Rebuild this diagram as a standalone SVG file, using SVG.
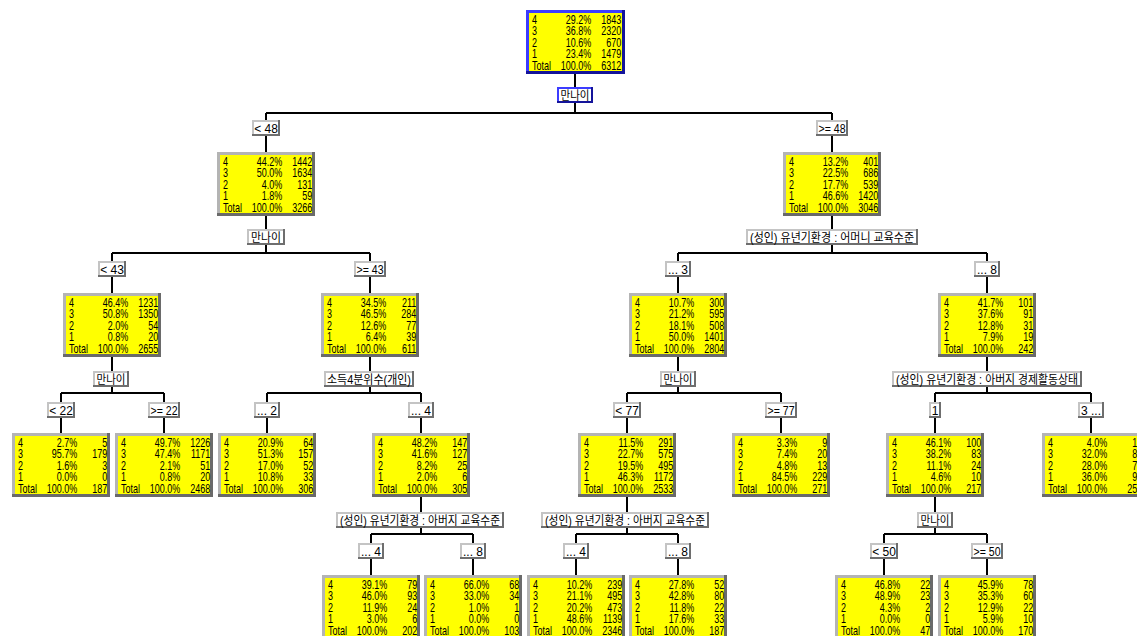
<svg xmlns="http://www.w3.org/2000/svg" xmlns:xlink="http://www.w3.org/1999/xlink" width="1137" height="636" viewBox="0 0 1137 636">
<style>
.ln{stroke:#000;stroke-width:2;fill:none}
.lo{fill:#6e6e6e}.lm{fill:#c4c4c4}.li{fill:#fff}
.bo{fill:#14149a}.bm{fill:#3c3cff}
.b1{fill:#6a6a6a}.b2{fill:#b4b4b4}.yl{fill:#ffff00}
.t{font-family:"Liberation Sans","DejaVu Sans",sans-serif;font-size:12px;fill:#000}
.e{text-anchor:end}
.lt{font-family:"Liberation Sans","Noto Sans CJK KR",sans-serif;font-size:12px;text-anchor:middle;fill:#000}
</style>
<defs>
<g id="yb"><rect class="b1" width="98" height="64"/><rect class="b2" width="95" height="61"/><rect class="yl" x="3" y="3" width="92" height="58"/></g>
<g id="rb"><rect class="bo" width="99" height="64"/><rect class="bm" width="96" height="61"/><rect class="yl" x="3" y="3" width="93" height="58"/></g>
</defs>
<rect width="1137" height="636" fill="#fff"/>
<g id="connectors">
<path class="ln" d="M575,73V113M266,113H832M266,113V152M832,113V152"/>
<path class="ln" d="M266,215V253M112,253H370M112,253V293M370,253V293"/>
<path class="ln" d="M832,215V253M678,253H987M678,253V293M987,253V293"/>
<path class="ln" d="M112,356V393M61,393H164M61,393V433M164,393V433"/>
<path class="ln" d="M370,356V393M267,393H421M267,393V433M421,393V433"/>
<path class="ln" d="M678,356V393M627,393H781M627,393V433M781,393V433"/>
<path class="ln" d="M987,356V393M935,393H1091M935,393V433M1091,393V433"/>
<path class="ln" d="M421,497V534M371,534H473M371,534V575M473,534V575"/>
<path class="ln" d="M627,497V534M576,534H678M576,534V575M678,534V575"/>
<path class="ln" d="M935,497V534M884,534H987M884,534V575M987,534V575"/>
</g>
<g id="splits">
<g id="s0"><rect class="bo" x="557" y="87" width="36" height="16"/><rect class="bm" x="557" y="87" width="34" height="14"/><rect class="li" x="559" y="89" width="32" height="12"/><text class="lt" x="575" y="99.5" textLength="29" lengthAdjust="spacingAndGlyphs">만나이</text></g>
<g id="s1"><rect class="lo" x="247" y="229" width="38" height="16"/><rect class="lm" x="247" y="229" width="36" height="14"/><rect class="li" x="249" y="231" width="34" height="12"/><text class="lt" x="266" y="241.5" textLength="30" lengthAdjust="spacingAndGlyphs">만나이</text></g>
<g id="s2"><rect class="lo" x="746" y="229" width="172" height="16"/><rect class="lm" x="746" y="229" width="170" height="14"/><rect class="li" x="748" y="231" width="168" height="12"/><text class="lt" x="832" y="241.5" textLength="164" lengthAdjust="spacingAndGlyphs">(성인) 유년기환경 : 어머니 교육수준</text></g>
<g id="s3"><rect class="lo" x="93" y="371" width="36" height="16"/><rect class="lm" x="93" y="371" width="34" height="14"/><rect class="li" x="95" y="373" width="32" height="12"/><text class="lt" x="111" y="383.5" textLength="29" lengthAdjust="spacingAndGlyphs">만나이</text></g>
<g id="s4"><rect class="lo" x="324" y="371" width="90" height="16"/><rect class="lm" x="324" y="371" width="88" height="14"/><rect class="li" x="326" y="373" width="86" height="12"/><text class="lt" x="369" y="383.5" textLength="84" lengthAdjust="spacingAndGlyphs">소득4분위수(개인)</text></g>
<g id="s5"><rect class="lo" x="660" y="371" width="36" height="16"/><rect class="lm" x="660" y="371" width="34" height="14"/><rect class="li" x="662" y="373" width="32" height="12"/><text class="lt" x="678" y="383.5" textLength="29" lengthAdjust="spacingAndGlyphs">만나이</text></g>
<g id="s6"><rect class="lo" x="892" y="371" width="190" height="16"/><rect class="lm" x="892" y="371" width="188" height="14"/><rect class="li" x="894" y="373" width="186" height="12"/><text class="lt" x="987" y="383.5" textLength="182" lengthAdjust="spacingAndGlyphs">(성인) 유년기환경 : 아버지 경제활동상태</text></g>
<g id="s10"><rect class="lo" x="336" y="512" width="168" height="16"/><rect class="lm" x="336" y="512" width="166" height="14"/><rect class="li" x="338" y="514" width="164" height="12"/><text class="lt" x="420" y="524.5" textLength="160" lengthAdjust="spacingAndGlyphs">(성인) 유년기환경 : 아버지 교육수준</text></g>
<g id="s11"><rect class="lo" x="541" y="512" width="168" height="16"/><rect class="lm" x="541" y="512" width="166" height="14"/><rect class="li" x="543" y="514" width="164" height="12"/><text class="lt" x="625" y="524.5" textLength="160" lengthAdjust="spacingAndGlyphs">(성인) 유년기환경 : 아버지 교육수준</text></g>
<g id="s13"><rect class="lo" x="917" y="512" width="36" height="16"/><rect class="lm" x="917" y="512" width="34" height="14"/><rect class="li" x="919" y="514" width="32" height="12"/><text class="lt" x="935" y="524.5" textLength="29" lengthAdjust="spacingAndGlyphs">만나이</text></g>
</g>
<g id="conditions">
<g id="c1"><rect class="lo" x="252" y="120" width="28" height="16"/><rect class="lm" x="252" y="120" width="26" height="14"/><rect class="li" x="254" y="122" width="24" height="12"/><text class="lt" x="266" y="132.5">&lt; 48</text></g>
<g id="c2"><rect class="lo" x="816" y="120" width="32" height="16"/><rect class="lm" x="816" y="120" width="30" height="14"/><rect class="li" x="818" y="122" width="28" height="12"/><text class="lt" x="832" y="132.5" textLength="27" lengthAdjust="spacingAndGlyphs">&gt;= 48</text></g>
<g id="c3"><rect class="lo" x="98" y="261" width="28" height="16"/><rect class="lm" x="98" y="261" width="26" height="14"/><rect class="li" x="100" y="263" width="24" height="12"/><text class="lt" x="112" y="273.5">&lt; 43</text></g>
<g id="c4"><rect class="lo" x="354" y="261" width="32" height="16"/><rect class="lm" x="354" y="261" width="30" height="14"/><rect class="li" x="356" y="263" width="28" height="12"/><text class="lt" x="370" y="273.5" textLength="27" lengthAdjust="spacingAndGlyphs">&gt;= 43</text></g>
<g id="c5"><rect class="lo" x="665" y="261" width="26" height="16"/><rect class="lm" x="665" y="261" width="24" height="14"/><rect class="li" x="667" y="263" width="22" height="12"/><text class="lt" x="678" y="273.5">... 3</text></g>
<g id="c6"><rect class="lo" x="974" y="261" width="26" height="16"/><rect class="lm" x="974" y="261" width="24" height="14"/><rect class="li" x="976" y="263" width="22" height="12"/><text class="lt" x="987" y="273.5">... 8</text></g>
<g id="c7"><rect class="lo" x="47" y="402" width="28" height="16"/><rect class="lm" x="47" y="402" width="26" height="14"/><rect class="li" x="49" y="404" width="24" height="12"/><text class="lt" x="61" y="414.5">&lt; 22</text></g>
<g id="c8"><rect class="lo" x="148" y="402" width="32" height="16"/><rect class="lm" x="148" y="402" width="30" height="14"/><rect class="li" x="150" y="404" width="28" height="12"/><text class="lt" x="164" y="414.5" textLength="27" lengthAdjust="spacingAndGlyphs">&gt;= 22</text></g>
<g id="c9"><rect class="lo" x="254" y="402" width="26" height="16"/><rect class="lm" x="254" y="402" width="24" height="14"/><rect class="li" x="256" y="404" width="22" height="12"/><text class="lt" x="267" y="414.5">... 2</text></g>
<g id="c10"><rect class="lo" x="408" y="402" width="26" height="16"/><rect class="lm" x="408" y="402" width="24" height="14"/><rect class="li" x="410" y="404" width="22" height="12"/><text class="lt" x="421" y="414.5">... 4</text></g>
<g id="c11"><rect class="lo" x="613" y="402" width="28" height="16"/><rect class="lm" x="613" y="402" width="26" height="14"/><rect class="li" x="615" y="404" width="24" height="12"/><text class="lt" x="627" y="414.5">&lt; 77</text></g>
<g id="c12"><rect class="lo" x="765" y="402" width="32" height="16"/><rect class="lm" x="765" y="402" width="30" height="14"/><rect class="li" x="767" y="404" width="28" height="12"/><text class="lt" x="781" y="414.5" textLength="27" lengthAdjust="spacingAndGlyphs">&gt;= 77</text></g>
<g id="c13"><rect class="lo" x="929" y="402" width="12" height="16"/><rect class="lm" x="929" y="402" width="10" height="14"/><rect class="li" x="931" y="404" width="8" height="12"/><text class="lt" x="935" y="414.5">1</text></g>
<g id="c14"><rect class="lo" x="1078" y="402" width="26" height="16"/><rect class="lm" x="1078" y="402" width="24" height="14"/><rect class="li" x="1080" y="404" width="22" height="12"/><text class="lt" x="1091" y="414.5">3 ...</text></g>
<g id="c15"><rect class="lo" x="358" y="543" width="26" height="16"/><rect class="lm" x="358" y="543" width="24" height="14"/><rect class="li" x="360" y="545" width="22" height="12"/><text class="lt" x="371" y="555.5">... 4</text></g>
<g id="c16"><rect class="lo" x="460" y="543" width="26" height="16"/><rect class="lm" x="460" y="543" width="24" height="14"/><rect class="li" x="462" y="545" width="22" height="12"/><text class="lt" x="473" y="555.5">... 8</text></g>
<g id="c17"><rect class="lo" x="563" y="543" width="26" height="16"/><rect class="lm" x="563" y="543" width="24" height="14"/><rect class="li" x="565" y="545" width="22" height="12"/><text class="lt" x="576" y="555.5">... 4</text></g>
<g id="c18"><rect class="lo" x="665" y="543" width="26" height="16"/><rect class="lm" x="665" y="543" width="24" height="14"/><rect class="li" x="667" y="545" width="22" height="12"/><text class="lt" x="678" y="555.5">... 8</text></g>
<g id="c19"><rect class="lo" x="870" y="543" width="28" height="16"/><rect class="lm" x="870" y="543" width="26" height="14"/><rect class="li" x="872" y="545" width="24" height="12"/><text class="lt" x="884" y="555.5">&lt; 50</text></g>
<g id="c20"><rect class="lo" x="971" y="543" width="32" height="16"/><rect class="lm" x="971" y="543" width="30" height="14"/><rect class="li" x="973" y="545" width="28" height="12"/><text class="lt" x="987" y="555.5" textLength="27" lengthAdjust="spacingAndGlyphs">&gt;= 50</text></g>
</g>
<g id="nodes">
<g id="n0" transform="translate(526,10)"><use href="#rb" xlink:href="#rb"/><g transform="scale(0.75,1)">
<text class="t"><tspan x="8" y="14">4</tspan><tspan x="8" y="25.5">3</tspan><tspan x="8" y="37">2</tspan><tspan x="8" y="48.5">1</tspan><tspan x="8" y="60">Total</tspan></text>
<text class="t e"><tspan x="87" y="14">29.2%</tspan><tspan x="87" y="25.5">36.8%</tspan><tspan x="87" y="37">10.6%</tspan><tspan x="87" y="48.5">23.4%</tspan><tspan x="87" y="60">100.0%</tspan></text>
<text class="t e"><tspan x="127" y="14">1843</tspan><tspan x="127" y="25.5">2320</tspan><tspan x="127" y="37">670</tspan><tspan x="127" y="48.5">1479</tspan><tspan x="127" y="60">6312</tspan></text></g></g>
<g id="n1" transform="translate(217,152)"><use href="#yb" xlink:href="#yb"/><g transform="scale(0.75,1)">
<text class="t"><tspan x="8" y="14">4</tspan><tspan x="8" y="25.5">3</tspan><tspan x="8" y="37">2</tspan><tspan x="8" y="48.5">1</tspan><tspan x="8" y="60">Total</tspan></text>
<text class="t e"><tspan x="87" y="14">44.2%</tspan><tspan x="87" y="25.5">50.0%</tspan><tspan x="87" y="37">4.0%</tspan><tspan x="87" y="48.5">1.8%</tspan><tspan x="87" y="60">100.0%</tspan></text>
<text class="t e"><tspan x="127" y="14">1442</tspan><tspan x="127" y="25.5">1634</tspan><tspan x="127" y="37">131</tspan><tspan x="127" y="48.5">59</tspan><tspan x="127" y="60">3266</tspan></text></g></g>
<g id="n2" transform="translate(783,152)"><use href="#yb" xlink:href="#yb"/><g transform="scale(0.75,1)">
<text class="t"><tspan x="8" y="14">4</tspan><tspan x="8" y="25.5">3</tspan><tspan x="8" y="37">2</tspan><tspan x="8" y="48.5">1</tspan><tspan x="8" y="60">Total</tspan></text>
<text class="t e"><tspan x="87" y="14">13.2%</tspan><tspan x="87" y="25.5">22.5%</tspan><tspan x="87" y="37">17.7%</tspan><tspan x="87" y="48.5">46.6%</tspan><tspan x="87" y="60">100.0%</tspan></text>
<text class="t e"><tspan x="127" y="14">401</tspan><tspan x="127" y="25.5">686</tspan><tspan x="127" y="37">539</tspan><tspan x="127" y="48.5">1420</tspan><tspan x="127" y="60">3046</tspan></text></g></g>
<g id="n3" transform="translate(63,293)"><use href="#yb" xlink:href="#yb"/><g transform="scale(0.75,1)">
<text class="t"><tspan x="8" y="14">4</tspan><tspan x="8" y="25.5">3</tspan><tspan x="8" y="37">2</tspan><tspan x="8" y="48.5">1</tspan><tspan x="8" y="60">Total</tspan></text>
<text class="t e"><tspan x="87" y="14">46.4%</tspan><tspan x="87" y="25.5">50.8%</tspan><tspan x="87" y="37">2.0%</tspan><tspan x="87" y="48.5">0.8%</tspan><tspan x="87" y="60">100.0%</tspan></text>
<text class="t e"><tspan x="127" y="14">1231</tspan><tspan x="127" y="25.5">1350</tspan><tspan x="127" y="37">54</tspan><tspan x="127" y="48.5">20</tspan><tspan x="127" y="60">2655</tspan></text></g></g>
<g id="n4" transform="translate(321,293)"><use href="#yb" xlink:href="#yb"/><g transform="scale(0.75,1)">
<text class="t"><tspan x="8" y="14">4</tspan><tspan x="8" y="25.5">3</tspan><tspan x="8" y="37">2</tspan><tspan x="8" y="48.5">1</tspan><tspan x="8" y="60">Total</tspan></text>
<text class="t e"><tspan x="87" y="14">34.5%</tspan><tspan x="87" y="25.5">46.5%</tspan><tspan x="87" y="37">12.6%</tspan><tspan x="87" y="48.5">6.4%</tspan><tspan x="87" y="60">100.0%</tspan></text>
<text class="t e"><tspan x="127" y="14">211</tspan><tspan x="127" y="25.5">284</tspan><tspan x="127" y="37">77</tspan><tspan x="127" y="48.5">39</tspan><tspan x="127" y="60">611</tspan></text></g></g>
<g id="n5" transform="translate(629,293)"><use href="#yb" xlink:href="#yb"/><g transform="scale(0.75,1)">
<text class="t"><tspan x="8" y="14">4</tspan><tspan x="8" y="25.5">3</tspan><tspan x="8" y="37">2</tspan><tspan x="8" y="48.5">1</tspan><tspan x="8" y="60">Total</tspan></text>
<text class="t e"><tspan x="87" y="14">10.7%</tspan><tspan x="87" y="25.5">21.2%</tspan><tspan x="87" y="37">18.1%</tspan><tspan x="87" y="48.5">50.0%</tspan><tspan x="87" y="60">100.0%</tspan></text>
<text class="t e"><tspan x="127" y="14">300</tspan><tspan x="127" y="25.5">595</tspan><tspan x="127" y="37">508</tspan><tspan x="127" y="48.5">1401</tspan><tspan x="127" y="60">2804</tspan></text></g></g>
<g id="n6" transform="translate(938,293)"><use href="#yb" xlink:href="#yb"/><g transform="scale(0.75,1)">
<text class="t"><tspan x="8" y="14">4</tspan><tspan x="8" y="25.5">3</tspan><tspan x="8" y="37">2</tspan><tspan x="8" y="48.5">1</tspan><tspan x="8" y="60">Total</tspan></text>
<text class="t e"><tspan x="87" y="14">41.7%</tspan><tspan x="87" y="25.5">37.6%</tspan><tspan x="87" y="37">12.8%</tspan><tspan x="87" y="48.5">7.9%</tspan><tspan x="87" y="60">100.0%</tspan></text>
<text class="t e"><tspan x="127" y="14">101</tspan><tspan x="127" y="25.5">91</tspan><tspan x="127" y="37">31</tspan><tspan x="127" y="48.5">19</tspan><tspan x="127" y="60">242</tspan></text></g></g>
<g id="n7" transform="translate(12,433)"><use href="#yb" xlink:href="#yb"/><g transform="scale(0.75,1)">
<text class="t"><tspan x="8" y="14">4</tspan><tspan x="8" y="25.5">3</tspan><tspan x="8" y="37">2</tspan><tspan x="8" y="48.5">1</tspan><tspan x="8" y="60">Total</tspan></text>
<text class="t e"><tspan x="87" y="14">2.7%</tspan><tspan x="87" y="25.5">95.7%</tspan><tspan x="87" y="37">1.6%</tspan><tspan x="87" y="48.5">0.0%</tspan><tspan x="87" y="60">100.0%</tspan></text>
<text class="t e"><tspan x="127" y="14">5</tspan><tspan x="127" y="25.5">179</tspan><tspan x="127" y="37">3</tspan><tspan x="127" y="48.5">0</tspan><tspan x="127" y="60">187</tspan></text></g></g>
<g id="n8" transform="translate(115,433)"><use href="#yb" xlink:href="#yb"/><g transform="scale(0.75,1)">
<text class="t"><tspan x="8" y="14">4</tspan><tspan x="8" y="25.5">3</tspan><tspan x="8" y="37">2</tspan><tspan x="8" y="48.5">1</tspan><tspan x="8" y="60">Total</tspan></text>
<text class="t e"><tspan x="87" y="14">49.7%</tspan><tspan x="87" y="25.5">47.4%</tspan><tspan x="87" y="37">2.1%</tspan><tspan x="87" y="48.5">0.8%</tspan><tspan x="87" y="60">100.0%</tspan></text>
<text class="t e"><tspan x="127" y="14">1226</tspan><tspan x="127" y="25.5">1171</tspan><tspan x="127" y="37">51</tspan><tspan x="127" y="48.5">20</tspan><tspan x="127" y="60">2468</tspan></text></g></g>
<g id="n9" transform="translate(218,433)"><use href="#yb" xlink:href="#yb"/><g transform="scale(0.75,1)">
<text class="t"><tspan x="8" y="14">4</tspan><tspan x="8" y="25.5">3</tspan><tspan x="8" y="37">2</tspan><tspan x="8" y="48.5">1</tspan><tspan x="8" y="60">Total</tspan></text>
<text class="t e"><tspan x="87" y="14">20.9%</tspan><tspan x="87" y="25.5">51.3%</tspan><tspan x="87" y="37">17.0%</tspan><tspan x="87" y="48.5">10.8%</tspan><tspan x="87" y="60">100.0%</tspan></text>
<text class="t e"><tspan x="127" y="14">64</tspan><tspan x="127" y="25.5">157</tspan><tspan x="127" y="37">52</tspan><tspan x="127" y="48.5">33</tspan><tspan x="127" y="60">306</tspan></text></g></g>
<g id="n10" transform="translate(372,433)"><use href="#yb" xlink:href="#yb"/><g transform="scale(0.75,1)">
<text class="t"><tspan x="8" y="14">4</tspan><tspan x="8" y="25.5">3</tspan><tspan x="8" y="37">2</tspan><tspan x="8" y="48.5">1</tspan><tspan x="8" y="60">Total</tspan></text>
<text class="t e"><tspan x="87" y="14">48.2%</tspan><tspan x="87" y="25.5">41.6%</tspan><tspan x="87" y="37">8.2%</tspan><tspan x="87" y="48.5">2.0%</tspan><tspan x="87" y="60">100.0%</tspan></text>
<text class="t e"><tspan x="127" y="14">147</tspan><tspan x="127" y="25.5">127</tspan><tspan x="127" y="37">25</tspan><tspan x="127" y="48.5">6</tspan><tspan x="127" y="60">305</tspan></text></g></g>
<g id="n11" transform="translate(578,433)"><use href="#yb" xlink:href="#yb"/><g transform="scale(0.75,1)">
<text class="t"><tspan x="8" y="14">4</tspan><tspan x="8" y="25.5">3</tspan><tspan x="8" y="37">2</tspan><tspan x="8" y="48.5">1</tspan><tspan x="8" y="60">Total</tspan></text>
<text class="t e"><tspan x="87" y="14">11.5%</tspan><tspan x="87" y="25.5">22.7%</tspan><tspan x="87" y="37">19.5%</tspan><tspan x="87" y="48.5">46.3%</tspan><tspan x="87" y="60">100.0%</tspan></text>
<text class="t e"><tspan x="127" y="14">291</tspan><tspan x="127" y="25.5">575</tspan><tspan x="127" y="37">495</tspan><tspan x="127" y="48.5">1172</tspan><tspan x="127" y="60">2533</tspan></text></g></g>
<g id="n12" transform="translate(732,433)"><use href="#yb" xlink:href="#yb"/><g transform="scale(0.75,1)">
<text class="t"><tspan x="8" y="14">4</tspan><tspan x="8" y="25.5">3</tspan><tspan x="8" y="37">2</tspan><tspan x="8" y="48.5">1</tspan><tspan x="8" y="60">Total</tspan></text>
<text class="t e"><tspan x="87" y="14">3.3%</tspan><tspan x="87" y="25.5">7.4%</tspan><tspan x="87" y="37">4.8%</tspan><tspan x="87" y="48.5">84.5%</tspan><tspan x="87" y="60">100.0%</tspan></text>
<text class="t e"><tspan x="127" y="14">9</tspan><tspan x="127" y="25.5">20</tspan><tspan x="127" y="37">13</tspan><tspan x="127" y="48.5">229</tspan><tspan x="127" y="60">271</tspan></text></g></g>
<g id="n13" transform="translate(886,433)"><use href="#yb" xlink:href="#yb"/><g transform="scale(0.75,1)">
<text class="t"><tspan x="8" y="14">4</tspan><tspan x="8" y="25.5">3</tspan><tspan x="8" y="37">2</tspan><tspan x="8" y="48.5">1</tspan><tspan x="8" y="60">Total</tspan></text>
<text class="t e"><tspan x="87" y="14">46.1%</tspan><tspan x="87" y="25.5">38.2%</tspan><tspan x="87" y="37">11.1%</tspan><tspan x="87" y="48.5">4.6%</tspan><tspan x="87" y="60">100.0%</tspan></text>
<text class="t e"><tspan x="127" y="14">100</tspan><tspan x="127" y="25.5">83</tspan><tspan x="127" y="37">24</tspan><tspan x="127" y="48.5">10</tspan><tspan x="127" y="60">217</tspan></text></g></g>
<g id="n14" transform="translate(1042,433)"><use href="#yb" xlink:href="#yb"/><g transform="scale(0.75,1)">
<text class="t"><tspan x="8" y="14">4</tspan><tspan x="8" y="25.5">3</tspan><tspan x="8" y="37">2</tspan><tspan x="8" y="48.5">1</tspan><tspan x="8" y="60">Total</tspan></text>
<text class="t e"><tspan x="87" y="14">4.0%</tspan><tspan x="87" y="25.5">32.0%</tspan><tspan x="87" y="37">28.0%</tspan><tspan x="87" y="48.5">36.0%</tspan><tspan x="87" y="60">100.0%</tspan></text>
<text class="t e"><tspan x="127" y="14">1</tspan><tspan x="127" y="25.5">8</tspan><tspan x="127" y="37">7</tspan><tspan x="127" y="48.5">9</tspan><tspan x="127" y="60">25</tspan></text></g></g>
<g id="n15" transform="translate(322,575)"><use href="#yb" xlink:href="#yb"/><g transform="scale(0.75,1)">
<text class="t"><tspan x="8" y="14">4</tspan><tspan x="8" y="25.5">3</tspan><tspan x="8" y="37">2</tspan><tspan x="8" y="48.5">1</tspan><tspan x="8" y="60">Total</tspan></text>
<text class="t e"><tspan x="87" y="14">39.1%</tspan><tspan x="87" y="25.5">46.0%</tspan><tspan x="87" y="37">11.9%</tspan><tspan x="87" y="48.5">3.0%</tspan><tspan x="87" y="60">100.0%</tspan></text>
<text class="t e"><tspan x="127" y="14">79</tspan><tspan x="127" y="25.5">93</tspan><tspan x="127" y="37">24</tspan><tspan x="127" y="48.5">6</tspan><tspan x="127" y="60">202</tspan></text></g></g>
<g id="n16" transform="translate(424,575)"><use href="#yb" xlink:href="#yb"/><g transform="scale(0.75,1)">
<text class="t"><tspan x="8" y="14">4</tspan><tspan x="8" y="25.5">3</tspan><tspan x="8" y="37">2</tspan><tspan x="8" y="48.5">1</tspan><tspan x="8" y="60">Total</tspan></text>
<text class="t e"><tspan x="87" y="14">66.0%</tspan><tspan x="87" y="25.5">33.0%</tspan><tspan x="87" y="37">1.0%</tspan><tspan x="87" y="48.5">0.0%</tspan><tspan x="87" y="60">100.0%</tspan></text>
<text class="t e"><tspan x="127" y="14">68</tspan><tspan x="127" y="25.5">34</tspan><tspan x="127" y="37">1</tspan><tspan x="127" y="48.5">0</tspan><tspan x="127" y="60">103</tspan></text></g></g>
<g id="n17" transform="translate(527,575)"><use href="#yb" xlink:href="#yb"/><g transform="scale(0.75,1)">
<text class="t"><tspan x="8" y="14">4</tspan><tspan x="8" y="25.5">3</tspan><tspan x="8" y="37">2</tspan><tspan x="8" y="48.5">1</tspan><tspan x="8" y="60">Total</tspan></text>
<text class="t e"><tspan x="87" y="14">10.2%</tspan><tspan x="87" y="25.5">21.1%</tspan><tspan x="87" y="37">20.2%</tspan><tspan x="87" y="48.5">48.6%</tspan><tspan x="87" y="60">100.0%</tspan></text>
<text class="t e"><tspan x="127" y="14">239</tspan><tspan x="127" y="25.5">495</tspan><tspan x="127" y="37">473</tspan><tspan x="127" y="48.5">1139</tspan><tspan x="127" y="60">2346</tspan></text></g></g>
<g id="n18" transform="translate(629,575)"><use href="#yb" xlink:href="#yb"/><g transform="scale(0.75,1)">
<text class="t"><tspan x="8" y="14">4</tspan><tspan x="8" y="25.5">3</tspan><tspan x="8" y="37">2</tspan><tspan x="8" y="48.5">1</tspan><tspan x="8" y="60">Total</tspan></text>
<text class="t e"><tspan x="87" y="14">27.8%</tspan><tspan x="87" y="25.5">42.8%</tspan><tspan x="87" y="37">11.8%</tspan><tspan x="87" y="48.5">17.6%</tspan><tspan x="87" y="60">100.0%</tspan></text>
<text class="t e"><tspan x="127" y="14">52</tspan><tspan x="127" y="25.5">80</tspan><tspan x="127" y="37">22</tspan><tspan x="127" y="48.5">33</tspan><tspan x="127" y="60">187</tspan></text></g></g>
<g id="n19" transform="translate(835,575)"><use href="#yb" xlink:href="#yb"/><g transform="scale(0.75,1)">
<text class="t"><tspan x="8" y="14">4</tspan><tspan x="8" y="25.5">3</tspan><tspan x="8" y="37">2</tspan><tspan x="8" y="48.5">1</tspan><tspan x="8" y="60">Total</tspan></text>
<text class="t e"><tspan x="87" y="14">46.8%</tspan><tspan x="87" y="25.5">48.9%</tspan><tspan x="87" y="37">4.3%</tspan><tspan x="87" y="48.5">0.0%</tspan><tspan x="87" y="60">100.0%</tspan></text>
<text class="t e"><tspan x="127" y="14">22</tspan><tspan x="127" y="25.5">23</tspan><tspan x="127" y="37">2</tspan><tspan x="127" y="48.5">0</tspan><tspan x="127" y="60">47</tspan></text></g></g>
<g id="n20" transform="translate(938,575)"><use href="#yb" xlink:href="#yb"/><g transform="scale(0.75,1)">
<text class="t"><tspan x="8" y="14">4</tspan><tspan x="8" y="25.5">3</tspan><tspan x="8" y="37">2</tspan><tspan x="8" y="48.5">1</tspan><tspan x="8" y="60">Total</tspan></text>
<text class="t e"><tspan x="87" y="14">45.9%</tspan><tspan x="87" y="25.5">35.3%</tspan><tspan x="87" y="37">12.9%</tspan><tspan x="87" y="48.5">5.9%</tspan><tspan x="87" y="60">100.0%</tspan></text>
<text class="t e"><tspan x="127" y="14">78</tspan><tspan x="127" y="25.5">60</tspan><tspan x="127" y="37">22</tspan><tspan x="127" y="48.5">10</tspan><tspan x="127" y="60">170</tspan></text></g></g>
</g>
</svg>
